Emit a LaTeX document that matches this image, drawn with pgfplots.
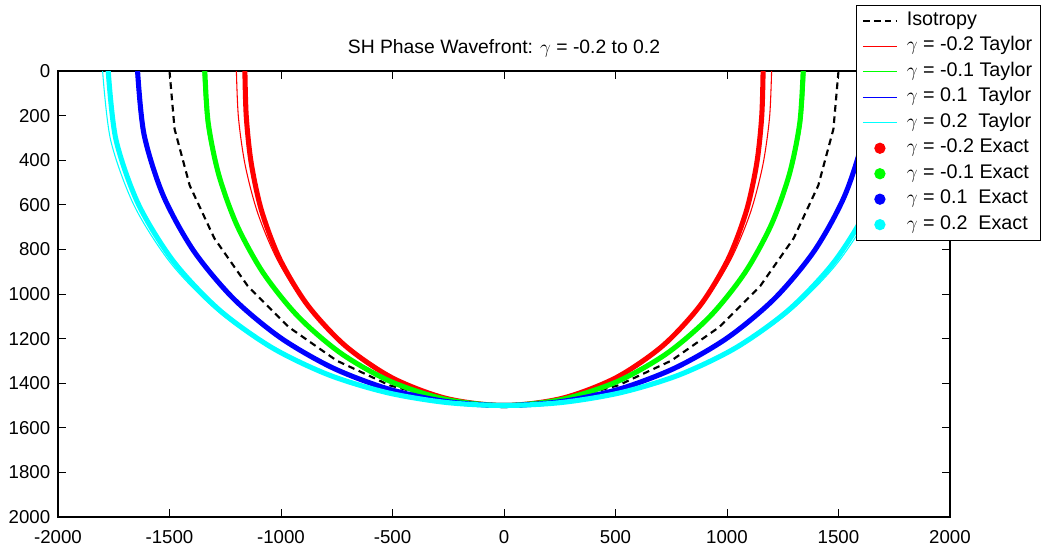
\documentclass[border=0pt]{standalone}
\usepackage{pgfplots}
\pgfplotsset{compat=1.18}
\usepackage{fontspec}
\setmainfont{Liberation Sans}
\definecolor{mred}{rgb}{1,0,0}
\definecolor{mgreen}{rgb}{0,1,0}
\definecolor{mblue}{rgb}{0,0,1}
\definecolor{mcyan}{rgb}{0,1,1}
\begin{document}
\fontsize{14}{16}\selectfont
\begin{tikzpicture}
\begin{axis}[
  scale only axis,
  width=669pt, height=334.5pt,
  xmin=-2000, xmax=2000, ymin=0, ymax=2000,
  y dir=reverse,
  xtick={-2000,-1500,...,2000},
  ytick={0,200,...,2000},
  tick align=inside,
  major tick length=6pt,
  axis line style={line width=0.9pt},
  tick style={line width=0.6pt, black},
  scaled ticks=false,
  /pgf/number format/.cd, 1000 sep={}, assume math mode=true,
  /pgfplots/.cd,
  tick label style={font=\fontsize{14}{16}\selectfont},
  xticklabel style={yshift=-5pt},
  yticklabel style={xshift=-1pt},
  title={SH Phase Wavefront: $\gamma$ = -0.2 to 0.2},
  title style={font=\fontsize{14.5}{17}\selectfont, yshift=-0.8pt},
  legend style={at={(axis description cs:0.8946,1.148)}, anchor=north west,
    draw=black, line width=0.8pt, font=\fontsize{14.8}{17}\selectfont,
    row sep=0pt, column sep=4.2pt, inner xsep=4pt, inner ysep=2pt, fill=white,
    nodes={text height=10.5pt, text depth=3.8pt, inner sep=2.4pt}},
  legend cell align=left,
]
% Isotropy
\addplot[black, line width=1.6pt, dash pattern=on 5pt off 3.5pt,
  legend image code/.code={\draw[black, line width=1.6pt, dash pattern=on 5pt off 3.2pt] (0pt,0pt) -- (25.5pt,0pt);}] coordinates {
(-1500,0) (-1477.2,260.5) (-1409.5,513.0) (-1299.0,750) (-1149.1,964.2) (-964.2,1149.1) (-750,1299.0) (-513.0,1409.5) (-260.5,1477.2) (0,1500) (260.5,1477.2) (513.0,1409.5) (750,1299.0) (964.2,1149.1) (1149.1,964.2) (1299.0,750) (1409.5,513.0) (1477.2,260.5) (1500,0)};
\addlegendentry{Isotropy}
% Taylor
\addplot[mred, line width=0.8pt, smooth,
  legend image code/.code={\draw[mred, line width=0.9pt] (0pt,0pt) -- (25.5pt,0pt);}] coordinates {
(-1200,0) (-1190.7,210.0) (-1160.6,422.4) (-1104.2,637.5) (-1014.2,851.0) (-884.5,1054.1) (-712.5,1234.1) (-501.0,1376.6) (-258.9,1468.3) (0,1500) (258.9,1468.3) (501.0,1376.6) (712.5,1234.1) (884.5,1054.1) (1014.2,851.0) (1104.2,637.5) (1160.6,422.4) (1190.7,210.0) (1200,0)};
\addlegendentry{$\gamma$ = -0.2 Taylor}
\addplot[mgreen, line width=0.8pt, smooth,
  legend image code/.code={\draw[mgreen, line width=0.9pt] (0pt,0pt) -- (25.5pt,0pt);}] coordinates {
(-1350,0) (-1333.9,235.2) (-1285.1,467.7) (-1201.6,693.8) (-1081.6,907.6) (-924.3,1101.6) (-731.3,1266.6) (-507.0,1393.0) (-259.7,1472.8) (0,1500) (259.7,1472.8) (507.0,1393.0) (731.3,1266.6) (924.3,1101.6) (1081.6,907.6) (1201.6,693.8) (1285.1,467.7) (1333.9,235.2) (1350,0)};
\addlegendentry{$\gamma$ = -0.1 Taylor}
\addplot[mblue, line width=0.8pt, smooth,
  legend image code/.code={\draw[mblue, line width=0.9pt] (0pt,0pt) -- (25.5pt,0pt);}] coordinates {
(-1650,0) (-1620.5,285.7) (-1534.0,558.3) (-1396.5,806.3) (-1216.5,1020.8) (-1004.0,1196.5) (-768.8,1331.5) (-519.0,1426.0) (-261.3,1481.7) (0,1500) (261.3,1481.7) (519.0,1426.0) (768.8,1331.5) (1004.0,1196.5) (1216.5,1020.8) (1396.5,806.3) (1534.0,558.3) (1620.5,285.7) (1650,0)};
\addlegendentry{$\gamma$ = 0.1\ \ Taylor}
\addplot[mcyan, line width=0.8pt, smooth,
  legend image code/.code={\draw[mcyan, line width=0.9pt] (0pt,0pt) -- (25.5pt,0pt);}] coordinates {
(-1800,0) (-1763.7,311.0) (-1658.5,603.6) (-1493.9,862.5) (-1283.9,1077.3) (-1043.9,1244.0) (-787.5,1364.0) (-525.0,1442.5) (-262.0,1486.1) (0,1500) (262.0,1486.1) (525.0,1442.5) (787.5,1364.0) (1043.9,1244.0) (1283.9,1077.3) (1493.9,862.5) (1658.5,603.6) (1763.7,311.0) (1800,0)};
\addlegendentry{$\gamma$ = 0.2\ \ Taylor}
% Exact
\addplot[mred, line width=3.8pt, smooth,
  legend image code/.code={\path[draw=none,fill=none] (0pt,0pt) -- (25.5pt,0pt); \fill[mred] (12.75pt,0pt) circle (2.2pt);}] coordinates {
(-1161.9,0) (-1155.7,203.8) (-1133.6,412.6) (-1086.9,627.5) (-1005.2,843.5) (-880.9,1049.8) (-711.5,1232.4) (-500.9,1376.2) (-258.9,1468.3) (0,1500) (258.9,1468.3) (500.9,1376.2) (711.5,1232.4) (880.9,1049.8) (1005.2,843.5) (1086.9,627.5) (1133.6,412.6) (1155.7,203.8) (1161.9,0)};
\addlegendentry{$\gamma$ = -0.2 Exact}
\addplot[mgreen, line width=3.8pt, smooth,
  legend image code/.code={\path[draw=none,fill=none] (0pt,0pt) -- (25.5pt,0pt); \fill[mgreen] (12.75pt,0pt) circle (2.2pt);}] coordinates {
(-1341.6,0) (-1326.2,233.9) (-1279.0,465.5) (-1197.6,691.5) (-1079.5,905.8) (-923.5,1100.6) (-731.0,1266.1) (-507.0,1392.9) (-259.7,1472.8) (0,1500) (259.7,1472.8) (507.0,1392.9) (731.0,1266.1) (923.5,1100.6) (1079.5,905.8) (1197.6,691.5) (1279.0,465.5) (1326.2,233.9) (1341.6,0)};
\addlegendentry{$\gamma$ = -0.1 Exact}
\addplot[mblue, line width=3.8pt, smooth,
  legend image code/.code={\path[draw=none,fill=none] (0pt,0pt) -- (25.5pt,0pt); \fill[mblue] (12.75pt,0pt) circle (2.2pt);}] coordinates {
(-1643.2,0) (-1614.1,284.6) (-1528.9,556.5) (-1393.1,804.3) (-1214.6,1019.2) (-1003.2,1195.6) (-768.5,1331.1) (-519.0,1425.9) (-261.3,1481.7) (0,1500) (261.3,1481.7) (519.0,1425.9) (768.5,1331.1) (1003.2,1195.6) (1214.6,1019.2) (1393.1,804.3) (1528.9,556.5) (1614.1,284.6) (1643.2,0)};
\addlegendentry{$\gamma$ = 0.1\ \ Exact}
\addplot[mcyan, line width=3.8pt, smooth,
  legend image code/.code={\path[draw=none,fill=none] (0pt,0pt) -- (25.5pt,0pt); \fill[mcyan] (12.75pt,0pt) circle (2.2pt);}] coordinates {
(-1774.8,0) (-1740.3,306.9) (-1639.7,596.8) (-1481.1,855.1) (-1276.8,1071.4) (-1040.8,1240.4) (-786.6,1362.5) (-524.9,1442.1) (-262.0,1486.1) (0,1500) (262.0,1486.1) (524.9,1442.1) (786.6,1362.5) (1040.8,1240.4) (1276.8,1071.4) (1481.1,855.1) (1639.7,596.8) (1740.3,306.9) (1774.8,0)};
\addlegendentry{$\gamma$ = 0.2\ \ Exact}
\end{axis}
\pgfresetboundingbox
\path[use as bounding box] (current axis.south west) ++(-43.5pt,-24pt) rectangle ++(785.25pt,411.75pt);
\end{tikzpicture}
\end{document}
